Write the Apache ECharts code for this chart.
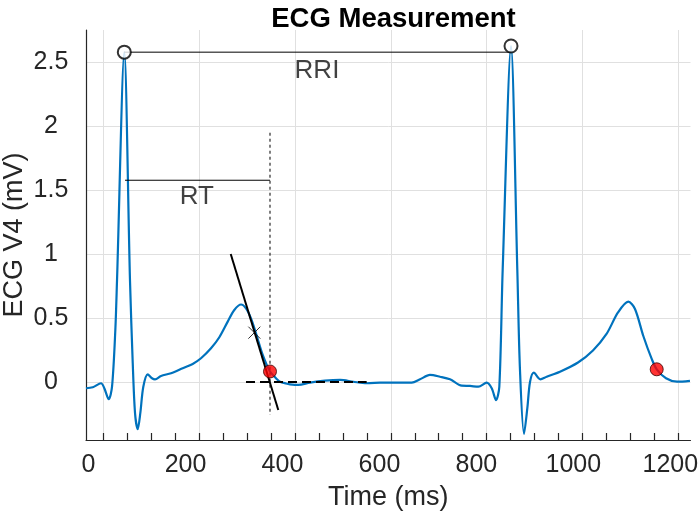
<!DOCTYPE html>
<html><head><meta charset="utf-8">
<script src="https://cdn.jsdelivr.net/npm/echarts@6/dist/echarts.min.js"></script>
<style>html,body{margin:0;padding:0;background:#fff}#c{width:700px;height:519px}</style>
</head><body><div id="c"></div>
<script>
// ECG trace (time in ms, amplitude in mV)
const timeMs = [-5.2, 8.7, 25.8, 32.6, 41.7, 48.5, 55.3, 58.8, 73.8, 85.5, 91.2, 95.9, 101.5, 106.8, 113.0,
  122.1, 131.0, 137.2, 149.5, 170.2, 194.3, 214.9, 232.0, 252.6, 269.8, 287.1, 300.7, 314.6, 324.8, 335.1,
  345.4, 359.3, 374.3, 386.7, 395.0, 407.4, 415.5, 432.7, 456.8, 487.8, 518.7, 546.1, 573.7, 601.2, 628.6,
  666.6, 683.7, 704.3, 725.0, 745.6, 769.7, 786.8, 804.0, 821.2, 831.6, 840.5, 847.3, 854.2, 871.4, 884.4,
  889.9, 898.2, 905.1, 910.6, 918.4, 931.8, 945.0, 972.4, 1009.6, 1040.4, 1068.4, 1092.1, 1113.3, 1127.1,
  1144.3, 1161.6, 1171.9, 1191.1, 1213.8, 1240.5];
const ecgMv = [-0.049, -0.041, -0.010, -0.049, -0.135, -0.037, 0.406, 0.796, 2.575, 0.796, 0.148, -0.242, -0.369, -0.244, -0.037,
  0.060, 0.029, 0.021, 0.047, 0.068, 0.107, 0.141, 0.185, 0.263, 0.349, 0.471, 0.562, 0.605, 0.575, 0.497,
  0.380, 0.211, 0.082, 0.029, 0.002, -0.012, -0.018, -0.023, -0.005, 0.010, 0.016, 0.002, -0.010, -0.005, -0.004,
  -0.005, 0.021, 0.055, 0.041, 0.021, -0.029, -0.031, -0.037, -0.005, -0.049, -0.141, -0.037, 0.874, 2.623, 0.874,
  0.094, -0.406, -0.203, 0.000, 0.073, 0.021, 0.041, 0.080, 0.152, 0.246, 0.375, 0.543, 0.627, 0.570,
  0.359, 0.180, 0.099, 0.029, 0.002, 0.009];

// Tick values
const xTickLabels = [0, 200, 400, 600, 800, 1000, 1200];
const xMinorTicks = [0, 50, 100, 150, 200, 250, 300, 350, 400, 450, 500, 550, 600, 650, 700, 750, 800, 850, 900, 950, 1000, 1050, 1100, 1150, 1200];
const yTickLabels = [0, 0.5, 1, 1.5, 2, 2.5];

// Annotations
const rPeakMs = [73.8, 871.4];
const rPeakMv = [2.575, 2.623];
const tEndMs = [374.3, 1171.9];
const tEndMv = [0.082, 0.099];
const tangentMs = [293.3, 391.4];
const tangentMv = [0.999, -0.219];
const tangentPointMs = [342.0];
const tangentPointMv = [0.385];
const baselineMs = [324.8, 573.7];
const baselineMv = [0, 0];
const rtLineMs = [75.3, 374.3];
const rtLineMv = [1.575, 1.575];
const tEndGuideMs = [374.3, 374.3];
const tEndGuideMv = [1.946, -0.258];
const rriLineMs = [73.8, 871.4];
const rriLineMv = [2.575, 2.575];
const textLabels = ['RRI', 'RT'];
const textMs = [471.2, 223.2];
const textMv = [2.432, 1.444];

const zip = (a, b) => a.map((v, i) => [v, b[i]]);
const FONT = '"Liberation Sans", Arial, Helvetica, sans-serif';
const AX = '#262626';

const chart = echarts.init(document.getElementById('c'), null, { renderer: 'canvas' });
chart.setOption({
  animation: false,
  backgroundColor: '#ffffff',
  textStyle: { fontFamily: FONT },
  title: {
    text: 'ECG Measurement', left: 388.5, top: 0, textAlign: 'center',
    textStyle: { fontFamily: FONT, fontSize: 27.5, fontWeight: 'bold', color: '#000' }
  },
  grid: { left: 86, right: 9.5, top: 30, bottom: 79, containLabel: false, outerBoundsMode: 'none' },
  xAxis: [
    { // data / labels axis
      type: 'value', min: -5.2, max: 1241.6, position: 'bottom',
      name: 'Time (ms)', nameLocation: 'middle', nameGap: 44,
      nameTextStyle: { fontFamily: FONT, fontSize: 27, color: AX },
      axisLine: { show: true, onZero: false, lineStyle: { color: AX, width: 1.2 } },
      axisTick: { show: false },
      axisLabel: { customValues: xTickLabels, formatter: v => String(v), margin: 13, fontSize: 25, color: AX, fontFamily: FONT },
      splitLine: { show: false }
    },
    { // tick marks
      type: 'value', min: -36.1, max: 1225.4, position: 'bottom',
      axisLine: { show: false, onZero: false },
      axisTick: { show: true, inside: true, length: 7, customValues: xMinorTicks, lineStyle: { color: AX, width: 1.2 } },
      axisLabel: { show: false },
      splitLine: { show: false }
    },
    { // grid lines
      type: 'value', min: -36.1, max: 1225.4, position: 'bottom',
      axisLine: { show: false, onZero: false },
      axisTick: { show: false, customValues: xTickLabels },
      axisLabel: { show: false },
      splitLine: { show: true, lineStyle: { color: '#e0e0e0', width: 1 } }
    }
  ],
  yAxis: {
    type: 'value', min: -0.453, max: 2.748,
    name: 'ECG V4 (mV)', nameLocation: 'middle', nameGap: 58, nameMoveOverlap: false,
    nameTextStyle: { fontFamily: FONT, fontSize: 27, color: AX },
    axisLine: { show: true, onZero: false, lineStyle: { color: AX, width: 1.2 } },
    axisTick: { show: false, customValues: yTickLabels },
    axisLabel: { customValues: yTickLabels, formatter: v => String(v), margin: 35, align: 'center', fontSize: 25, color: AX, fontFamily: FONT, padding: [4, 0, 0, 0] },
    splitLine: { show: true, lineStyle: { color: '#e0e0e0', width: 1 } }
  },
  series: [
    { type: 'line', data: zip(timeMs, ecgMv), showSymbol: false, smooth: 0.3, z: 2,
      lineStyle: { color: '#0072BD', width: 2.2 }, silent: true },
    { type: 'line', data: zip(rriLineMs, rriLineMv), showSymbol: false, z: 3,
      lineStyle: { color: '#000', width: 1 }, silent: true },
    { type: 'line', data: zip(rtLineMs, rtLineMv), showSymbol: false, z: 3,
      lineStyle: { color: '#000', width: 1 }, silent: true },
    { type: 'line', data: zip(tEndGuideMs, tEndGuideMv), showSymbol: false, z: 3,
      lineStyle: { color: '#000', width: 1, type: [3, 3] }, silent: true },
    { type: 'line', data: zip(baselineMs, baselineMv), showSymbol: false, z: 3,
      lineStyle: { color: '#000', width: 2, type: [9, 5] }, silent: true },
    { type: 'line', data: zip(tangentMs, tangentMv), showSymbol: false, z: 4,
      lineStyle: { color: '#000', width: 2 }, silent: true },
    { type: 'scatter', data: zip(tangentPointMs, tangentPointMv), z: 5,
      symbol: 'path://M0,0L10,10M10,0L0,10', symbolSize: 12,
      itemStyle: { color: 'none', borderColor: '#000', borderWidth: 1 }, silent: true },
    { type: 'scatter', data: zip(rPeakMs, rPeakMv), z: 6, symbol: 'circle', symbolSize: 13,
      itemStyle: { color: '#fff', borderColor: '#000', borderWidth: 2 }, silent: true },
    { type: 'scatter', data: zip(tEndMs, tEndMv), z: 6, symbol: 'circle', symbolSize: 13,
      itemStyle: { color: '#ff0000', borderColor: '#3a0000', borderWidth: 1 }, silent: true },
    { type: 'scatter', data: textMs.map((v, i) => [v, textMv[i], textLabels[i]]), z: 7, symbolSize: 0,
      label: { show: true, position: 'inside', formatter: p => p.data[2], fontFamily: FONT, fontSize: 26, color: '#111' },
      silent: true }
  ]
});
</script></body></html>
